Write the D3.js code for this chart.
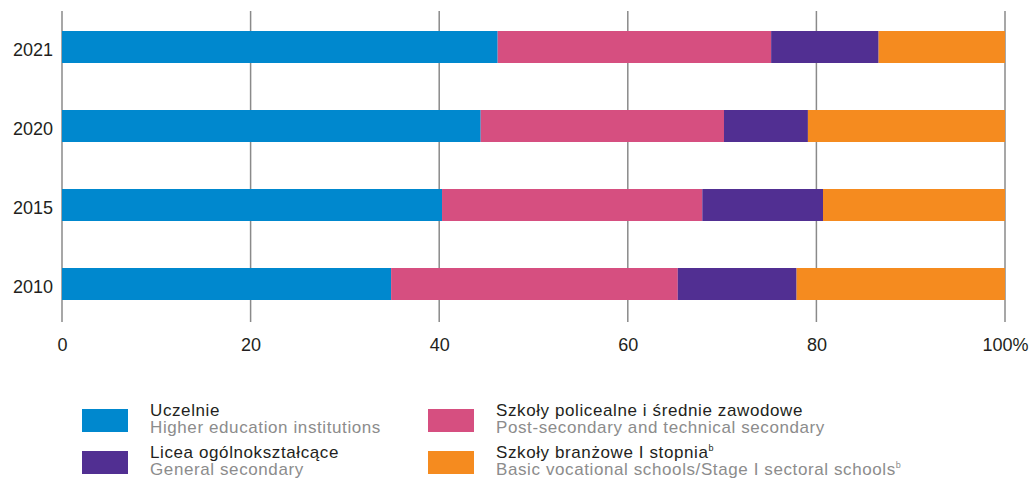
<!DOCTYPE html>
<html>
<head>
<meta charset="utf-8">
<script src="https://cdn.jsdelivr.net/npm/d3@7"></script>
<style>
  body { margin: 0; background: #fff; }
  svg { font-family: "Liberation Sans", Arial, sans-serif; }
</style>
</head>
<body>
<div id="chart"></div>
<script>
// data
const years = ["2021", "2020", "2015", "2010"];
const keys = ["higher", "postsec", "general", "vocational"];
const higher = [46.2, 44.4, 40.3, 34.9];
const postsec = [29.0, 25.8, 27.6, 30.4];
const general = [11.4, 8.9, 12.8, 12.6];
const vocational = [13.4, 20.9, 19.3, 22.1];
const xTicks = [0, 20, 40, 60, 80, 100];
const legendPl = ["Uczelnie", "Szkoły policealne i średnie zawodowe", "Licea ogólnokształcące", "Szkoły branżowe I stopnia"];
const legendEn = ["Higher education institutions", "Post-secondary and technical secondary", "General secondary", "Basic vocational schools/Stage I sectoral schools"];
const legendSup = [false, false, false, true];
const legendKeys = ["higher", "postsec", "general", "vocational"];

const colors = {
    higher: "#0088ce",
    postsec: "#d64f80",
    general: "#512f92",
    vocational: "#f58b1f",
};

const width = 1031, height = 480;
const margin = {left: 62, right: 26};
const font = "'Liberation Sans', Arial, sans-serif";

const rows = years.map((y, i) => ({
    year: y, higher: higher[i], postsec: postsec[i], general: general[i], vocational: vocational[i]
}));

const svg = d3.select("#chart").append("svg")
    .attr("width", width)
    .attr("height", height);

const x = d3.scaleLinear()
    .domain([0, 100])
    .range([margin.left, width - margin.right]);

const y = d3.scaleBand()
    .domain(years)
    .range([7.3, 323.7])
    .paddingInner(0.595)
    .paddingOuter(0.3);

// gridlines
svg.append("g")
    .selectAll("line")
    .data(xTicks)
    .enter().append("line")
    .attr("x1", d => x(d)).attr("x2", d => x(d))
    .attr("y1", 11).attr("y2", 322)
    .attr("stroke", "#8a8a8a")
    .attr("stroke-width", 1.5);

// bars
svg.append("g")
    .selectAll("g")
    .data(d3.stack().keys(keys)(rows))
    .enter().append("g")
    .attr("fill", d => colors[d.key])
    .selectAll("rect")
    .data(d => d)
    .enter().append("rect")
    .attr("x", d => x(d[0]))
    .attr("width", d => x(d[1]) - x(d[0]))
    .attr("y", d => y(d.data.year))
    .attr("height", y.bandwidth());

// x axis labels
const xAxis = svg.append("g")
    .attr("transform", "translate(0,351)")
    .call(d3.axisBottom(x).tickValues(xTicks).tickSize(0).tickPadding(0)
        .tickFormat(d => d === 100 ? "100%" : d));
xAxis.select(".domain").remove();
xAxis.selectAll("text")
    .attr("y", 0)
    .attr("dy", 0)
    .style("font-size", "18px")
    .style("fill", "#231f20")
    .style("font-family", font);

// y labels
const yAxis = svg.append("g")
    .attr("transform", "translate(53,0)")
    .call(d3.axisLeft(y).tickSize(0).tickPadding(0));
yAxis.select(".domain").remove();
yAxis.selectAll("text")
    .attr("dy", "0.5em")
    .style("font-size", "18px")
    .style("fill", "#231f20")
    .style("font-family", font);

// legend
const legendX = [82, 428];
const legendY = [409, 451];
const legend = svg.append("g")
    .selectAll("g")
    .data(legendKeys)
    .enter().append("g")
    .attr("transform", (d, i) => "translate(" + legendX[i % 2] + "," + legendY[Math.floor(i / 2)] + ")");

legend.append("rect")
    .attr("width", 46).attr("height", 23)
    .attr("fill", d => colors[d]);

const pl = legend.append("text")
    .attr("x", 68).attr("y", 7)
    .style("font-size", "17px")
    .style("letter-spacing", "0.6px")
    .style("fill", "#231f20");
pl.append("tspan").text((d, i) => legendPl[i]);
pl.filter((d, i) => legendSup[i]).append("tspan")
    .attr("dy", -7).style("font-size", "9px").text("b");

const en = legend.append("text")
    .attr("x", 68).attr("y", 24)
    .style("font-size", "17px")
    .style("letter-spacing", "0.6px")
    .style("fill", "#8c8c8c");
en.append("tspan").text((d, i) => legendEn[i]);
en.filter((d, i) => legendSup[i]).append("tspan")
    .attr("dy", -7).style("font-size", "9px").text("b");
</script>
</body>
</html>
